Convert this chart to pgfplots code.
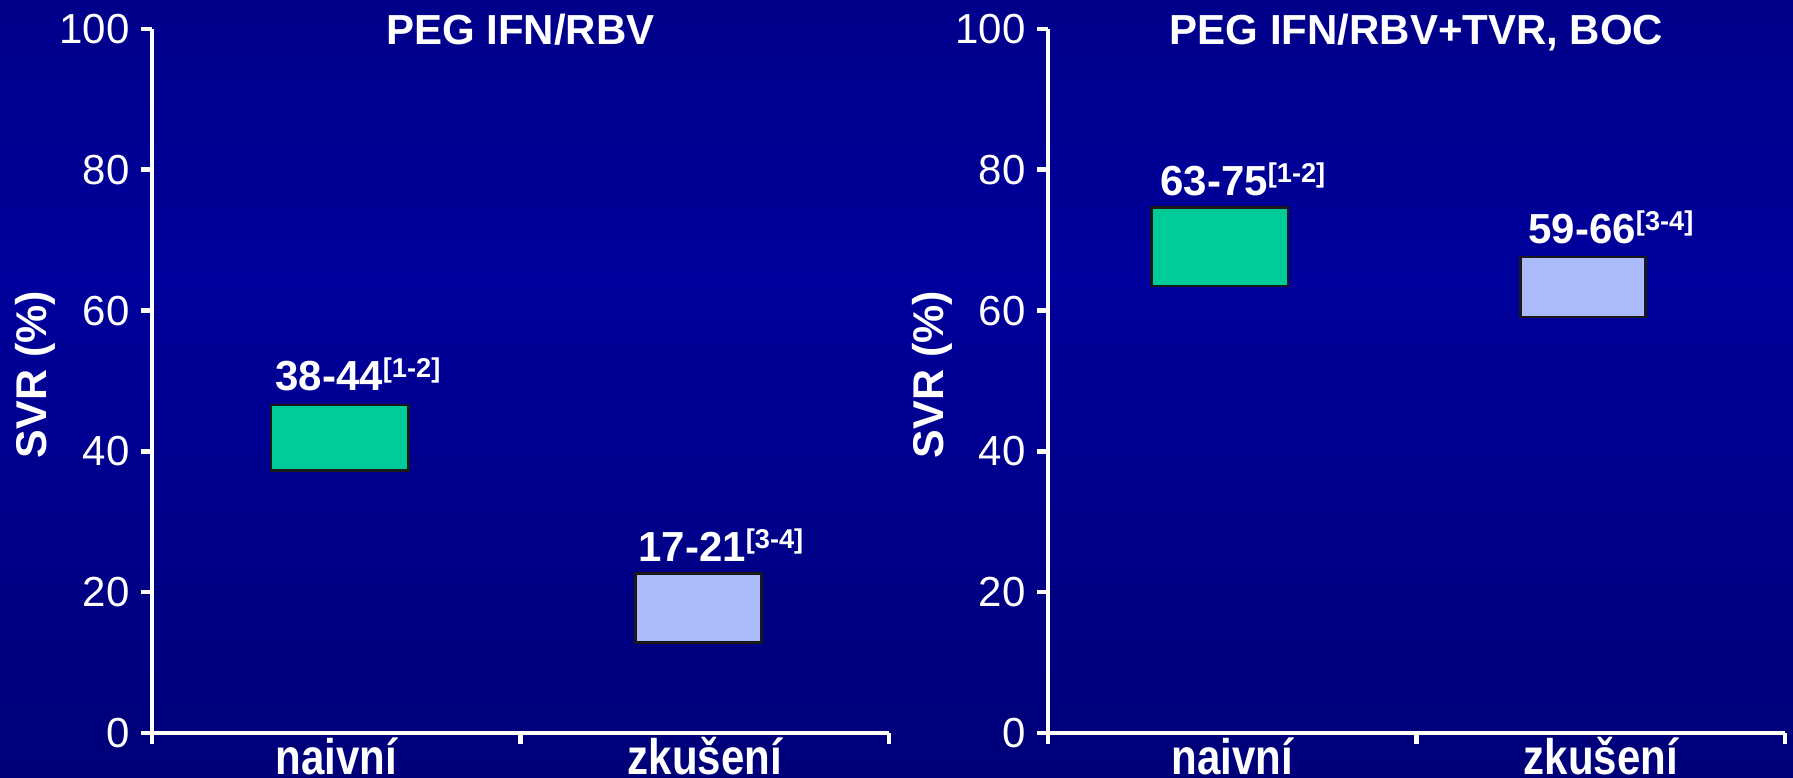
\documentclass[border=0pt]{standalone}
\usepackage{pgfplots}
\pgfplotsset{compat=1.18}
\usepackage{fontspec}
\setmainfont{Liberation Sans}
\newfontfamily\narrowfont[FakeStretch=0.84]{Liberation Sans}
\definecolor{bgtop}{RGB}{0,0,138}
\definecolor{bgmid}{RGB}{0,0,156}
\definecolor{bgbot}{RGB}{0,0,120}
\definecolor{boxgreen}{RGB}{0,204,153}
\definecolor{boxblue}{RGB}{170,186,250}
\pgfplotsset{
  panel/.style={
    scale only axis, width=368.5bp, height=352bp, anchor=south west,
    xmin=0, xmax=2, ymin=0, ymax=100,
    axis x line*=bottom, axis y line*=left,
    axis line style={-, white, line width=2.3bp},
    xtick={0,1,2}, xticklabels={},
    ytick={0,20,...,100},
    tick align=outside, major tick length=5.5bp,
    tick style={white, line width=2.3bp},
    yticklabel style={white, font=\fontsize{21bp}{21bp}\selectfont, inner sep=0pt, xshift=-5.5bp},
    /pgf/number format/assume math mode=true,
    clip=false,
  },
  rng/.style={draw=black!90, line width=1.4bp, mark=none, line join=miter},
}
\tikzset{
  val/.style={anchor=base west, white, inner sep=0pt, font=\bfseries\fontsize{21bp}{21bp}\selectfont},
  ttl/.style={anchor=base, white, inner sep=0pt, font=\bfseries\fontsize{21bp}{21bp}\selectfont},
  ylab/.style={rotate=90, white, inner sep=0pt, font=\bfseries\fontsize{21.5bp}{21.5bp}\selectfont},
  cat/.style={anchor=base, white, inner sep=0pt, font=\narrowfont\bfseries\fontsize{25bp}{25bp}\selectfont},
}
\newcommand{\sref}[1]{\raisebox{6.5bp}{\fontsize{13.6bp}{13.6bp}\selectfont #1}}
\begin{document}
\begin{tikzpicture}
\path[use as bounding box] (0,0) rectangle (896.5bp,389bp);
\shade[top color=bgtop, bottom color=bgmid] (0,250bp) rectangle (896.5bp,389bp);
\shade[top color=bgmid, bottom color=bgbot] (0,0) rectangle (896.5bp,250.2bp);

\begin{axis}[panel, at={(76bp,22.5bp)}]
  \addplot[rng, fill=boxgreen] coordinates {(0.323,37.3) (0.695,37.3) (0.695,46.6) (0.323,46.6)} -- cycle;
  \addplot[rng, fill=boxblue] coordinates {(1.313,12.8) (1.653,12.8) (1.653,22.6) (1.313,22.6)} -- cycle;
  \node[val] at (axis cs:0.334,48.6) {38-44\sref{[1-2]}};
  \node[val] at (axis cs:1.319,24.4) {17-21\sref{[3-4]}};
  \node[ttl] at (axis cs:1,97.8) {PEG IFN/RBV};
  \node[ylab] at ([xshift=-58.5bp]axis cs:0,50.9) {SVR (\%)};
  \node[cat] at ([yshift=-20.5bp]axis cs:0.5,0) {naivní};
  \node[cat] at ([yshift=-20.5bp]axis cs:1.5,0) {zkušení};
\end{axis}

\begin{axis}[panel, at={(524bp,22.5bp)}]
  \addplot[rng, fill=boxgreen] coordinates {(0.280,63.5) (0.651,63.5) (0.651,74.7) (0.280,74.7)} -- cycle;
  \addplot[rng, fill=boxblue] coordinates {(1.283,59.1) (1.622,59.1) (1.622,67.6) (1.283,67.6)} -- cycle;
  \node[val] at (axis cs:0.304,76.4) {63-75\sref{[1-2]}};
  \node[val] at (axis cs:1.303,69.6) {59-66\sref{[3-4]}};
  \node[ttl] at (axis cs:1,97.8) {PEG IFN/RBV+TVR, BOC};
  \node[ylab] at ([xshift=-58bp]axis cs:0,50.9) {SVR (\%)};
  \node[cat] at ([yshift=-20.5bp]axis cs:0.5,0) {naivní};
  \node[cat] at ([yshift=-20.5bp]axis cs:1.5,0) {zkušení};
\end{axis}
\end{tikzpicture}
\end{document}
